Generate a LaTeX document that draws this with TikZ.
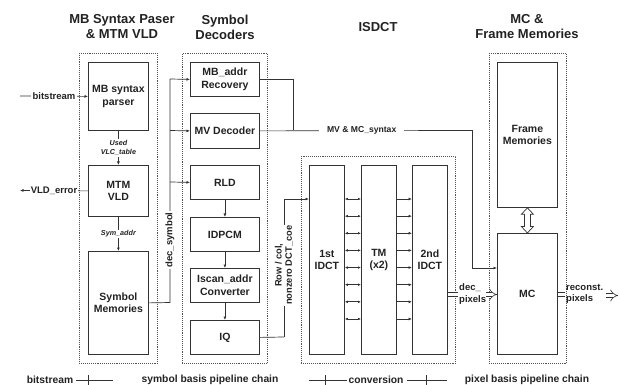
\documentclass[tikz,border=0pt]{standalone}
\usepackage{fontspec}
\setmainfont{Liberation Sans}
\usetikzlibrary{arrows.meta}
\definecolor{ink}{HTML}{222222}
\definecolor{edge}{HTML}{333333}
\begin{document}
\begin{tikzpicture}[x=1pt,y=-1pt,
  every node/.style={text=ink},
  box/.style={draw=edge, line width=0.8pt, anchor=north west, align=center, inner sep=0pt, font=\fontsize{10.5}{12.5}\selectfont\bfseries},
  grp/.style={draw=edge!85, densely dotted, line width=0.9pt, anchor=north west, inner sep=0pt},
  wire/.style={draw=edge, line width=0.7pt},
  arr/.style={wire, -{Latex[length=3.5pt,width=3pt]}},
  barr/.style={wire, {Latex[length=3pt,width=2.6pt]}-{Latex[length=3pt,width=2.6pt]}},
  dbl/.style={draw=edge, double=white, double distance=3.6pt, line width=0.6pt},
  hollow/.style={draw=edge, line width=0.7pt, fill=white, line join=miter},
  lbl/.style={fill=white, inner sep=1.2pt, font=\fontsize{9.5}{11}\selectfont\bfseries},
  ilbl/.style={fill=white, inner sep=1pt, align=center, font=\fontsize{7.2}{9.5}\selectfont\bfseries\itshape},
  title/.style={align=center, font=\fontsize{13}{15}\selectfont\bfseries},
  leg/.style={font=\fontsize{10.3}{12}\selectfont\bfseries},
]
\useasboundingbox (0,0) rectangle (619,385);

% titles
\node[title] (t1) at (122,27) {MB Syntax Paser\\\& MTM VLD};
\node[title] (t2) at (225,27) {Symbol\\Decoders};
\node[title] (t3) at (378,27) {ISDCT};
\node[title] (t4) at (527,27) {MC \&\\Frame Memories};

% groups
\node[grp, minimum width=78, minimum height=310] (g1) at (79,53) {};
\node[grp, minimum width=85, minimum height=310] (g2) at (182,53) {};
\node[grp, minimum width=154, minimum height=207] (g3) at (301,156) {};
\node[grp, minimum width=77, minimum height=310] (g4) at (489,53) {};

% column 1
\node[box, minimum width=60, minimum height=68] (parser) at (88,62) {MB syntax\\parser};
\node[box, minimum width=60, minimum height=51] (vld) at (88,165) {MTM\\VLD};
\node[box, minimum width=60, minimum height=103] (symmem) at (88,251) {Symbol\\Memories};

% column 2
\node[box, minimum width=69, minimum height=34] (mbaddr) at (190,62) {MB\_addr\\Recovery};
\node[box, minimum width=69, minimum height=35] (mvdec) at (190,113) {MV Decoder};
\node[box, minimum width=69, minimum height=34] (rld) at (190,165) {RLD};
\node[box, minimum width=69, minimum height=34] (idpcm) at (190,217) {IDPCM};
\node[box, minimum width=69, minimum height=34] (iscan) at (190,268) {Iscan\_addr\\Converter};
\node[box, minimum width=69, minimum height=34] (iq) at (190,320) {IQ};

% column 3
\node[box, minimum width=35, minimum height=189] (idct1) at (309,165) {1st\\IDCT};
\node[box, minimum width=35, minimum height=189] (tm) at (361,165) {TM\\(x2)};
\node[box, minimum width=35, minimum height=189] (idct2) at (412,165) {2nd\\IDCT};

% column 4
\node[box, minimum width=60, minimum height=145] (fm) at (497,62) {Frame\\Memories};
\node[box, minimum width=60, minimum height=121] (mc) at (497,233) {MC};

% inputs / outputs of column 1
\coordinate (bsin) at (20,96);
\coordinate (errout) at (20,190.5);
\draw[arr] (bsin) -- node[lbl, pos=0.5] {bitstream} (parser.west);
\draw[arr] (vld.west) -- node[lbl, pos=0.5] {VLD\_error} (errout);
\draw[arr] (parser.south) -- node[ilbl, pos=0.5] {Used\\VLC\_table} (vld.north);
\draw[arr] (vld.south) -- node[ilbl, pos=0.5] {Sym\_addr} (symmem.north);

% dec_symbol bus
\coordinate (busB) at (170,302.5);
\coordinate (busT) at (170,79);
\coordinate (busM) at (170,130.5);
\coordinate (busR) at (170,182);
\draw[wire] (symmem.east) -- (busB) -- node[lbl, rotate=90, pos=0.28] {dec\_symbol} (busT);
\draw[arr] (busT) -- (mbaddr.west);
\draw[arr] (busM) -- (mvdec.west);
\draw[arr] (busR) -- (rld.west);

% decoder chain
\draw[arr] (rld.south) -- (idpcm.north);
\draw[arr] (idpcm.south) -- (iscan.north);
\draw[arr] (iscan.south) -- (iq.north);

% IQ to 1st IDCT
\coordinate (rcB) at (284,337);
\coordinate (rcT) at (284,199);
\draw[wire] (iq.east) -- (rcB);
\draw[arr] (rcB) -- node[lbl, rotate=90, pos=0.52, align=center, font=\fontsize{9.3}{10.2}\selectfont\bfseries] {Row / col,\\nonzero DCT\_coe} (rcT) -- (idct1.west |- rcT);

% MV & MC syntax
\coordinate (join) at (293,130.5);
\coordinate (mvr) at (472,130.5);
\coordinate (mvd) at (472,268);
\draw[wire] (mbaddr.east) -| (join);
\draw[wire] (mvdec.east) -- node[lbl, pos=0.48, inner xsep=8pt, font=\fontsize{8.6}{10}\selectfont\bfseries] {MV \& MC\_syntax} (mvr);
\draw[arr] (mvr) -- (mvd) -- (mc.west |- mvd);

% transpose arrows
\foreach \i in {0,...,7} {
  \pgfmathsetmacro\yy{199+\i*17.14}
  \draw[barr] (idct1.east |- 0,\yy) -- (tm.west |- 0,\yy);
  \draw[arr] (tm.east |- 0,\yy) -- (idct2.west |- 0,\yy);
}

% dec_pixels
\coordinate (dpA) at (458,294.5);
\coordinate (dpB) at (486,294.5);
\draw[dbl] (idct2.east |- dpA) -- (dpA);
\node[anchor=west, inner sep=0pt, align=left, font=\fontsize{9.5}{12.5}\selectfont\bfseries] (dplbl) at (459,294) {dec\_\\pixels};
\draw[dbl, -{Implies}] (dpB) -- (mc.west |- dpB);

% reconst pixels
\coordinate (rpA) at (565,294.5);
\coordinate (rpB) at (606,295.5);
\coordinate (rpC) at (618,295.5);
\draw[dbl] (mc.east |- rpA) -- (rpA);
\node[anchor=west, inner sep=0pt, align=left, font=\fontsize{9.5}{11.5}\selectfont\bfseries] (rplbl) at (566,294) {reconst.\\pixels};
\draw[dbl, -{Implies}] (rpB) -- (rpC);

% frame memories <-> MC (hollow double arrow)
\draw[hollow] (fm.south) -- ([shift={(6,6.5)}]fm.south) -- ([shift={(3,6.5)}]fm.south)
  -- ([shift={(3,-6.5)}]mc.north) -- ([shift={(6,-6.5)}]mc.north) -- (mc.north)
  -- ([shift={(-6,-6.5)}]mc.north) -- ([shift={(-3,-6.5)}]mc.north)
  -- ([shift={(-3,6.5)}]fm.south) -- ([shift={(-6,6.5)}]fm.south) -- cycle;

% legend
\node[leg] (l1) at (50,380) {bitstream};
\node[leg] (l2) at (210,380) {symbol basis pipeline chain};
\node[leg] (l3) at (376,380) {conversion};
\node[leg] (l4) at (527,380) {pixel basis pipeline chain};
\coordinate (a1) at (76,380); \coordinate (a2) at (113,380); \coordinate (a3) at (88,380);
\coordinate (b1) at (309,380); \coordinate (b2) at (347,380); \coordinate (b3) at (325,380);
\coordinate (c1) at (407,380); \coordinate (c2) at (447,380); \coordinate (c3) at (426,380);
\foreach \p in {a,b,c} {
  \draw[wire] (\p1) -- (\p2);
  \draw[wire] ([yshift=-5pt]\p3) -- ([yshift=5pt]\p3);
}
\end{tikzpicture}
\end{document}
